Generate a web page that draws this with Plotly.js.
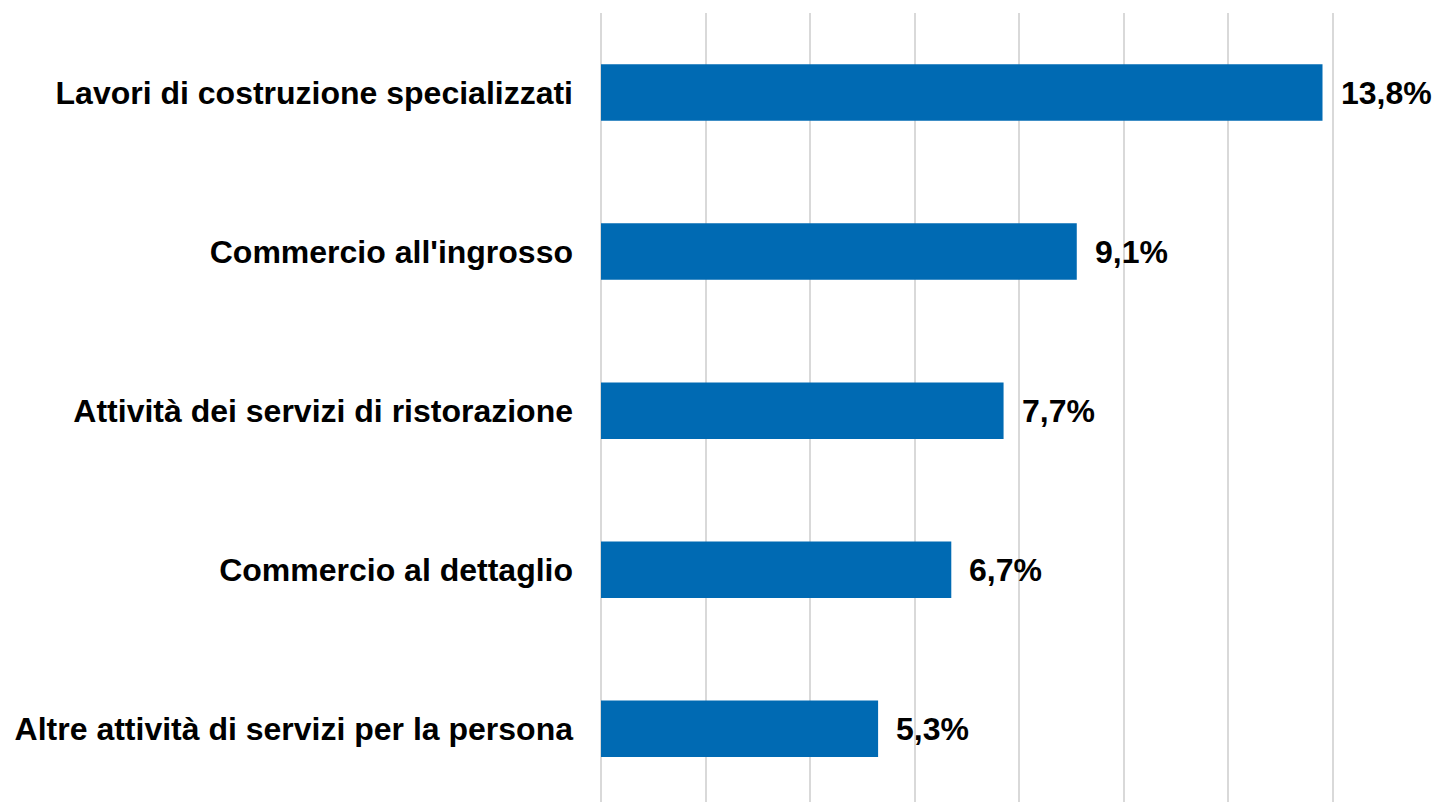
<!DOCTYPE html>
<html>
<head>
<meta charset="utf-8">
<script src="https://cdn.plot.ly/plotly-3.0.1.min.js"></script>
<style>html,body{margin:0;padding:0;background:#fff;}#chart{width:1432px;height:802px;}</style>
</head>
<body>
<div id="chart"></div>
<script>
const categories = [
  "Lavori di costruzione specializzati",
  "Commercio all'ingrosso",
  "Attività dei servizi di ristorazione",
  "Commercio al dettaglio",
  "Altre attività di servizi per la persona"
];
const values = [13.8, 9.1, 7.7, 6.7, 5.3];
const xTicks = [0, 2, 4, 6, 8, 10, 12, 14];

const fmt = v => v.toFixed(1).replace('.', ',') + '%';
const FONT = 'Liberation Sans, Arial, sans-serif';

const trace = {
  type: 'bar',
  orientation: 'h',
  x: values,
  y: categories,
  width: 0.355,
  marker: {color: '#006AB3'},
  hoverinfo: 'skip'
};

const annotations = values.map((v, i) => ({
  x: v, y: categories[i], xref: 'x', yref: 'y',
  text: fmt(v), showarrow: false, xanchor: 'left', yanchor: 'middle',
  xshift: 16,
  font: {family: FONT, size: 32, color: '#000', weight: 'bold'}
}));

const layout = {
  width: 1432, height: 802,
  margin: {l: 601, r: 98, t: 13, b: 0},
  paper_bgcolor: '#fff', plot_bgcolor: '#fff',
  showlegend: false,
  font: {family: FONT, color: '#000'},
  xaxis: {
    range: [0, 14.02], tickvals: xTicks, showticklabels: false,
    showgrid: true, gridcolor: '#d9d9d9', gridwidth: 2,
    zeroline: true, zerolinecolor: '#d9d9d9', zerolinewidth: 2,
    showline: false, fixedrange: true
  },
  yaxis: {
    type: 'category', categoryorder: 'array', categoryarray: categories,
    range: [4.46, -0.5], showgrid: false, zeroline: false, showline: false,
    ticks: '', ticklabelstandoff: 27,
    tickfont: {family: FONT, size: 32, color: '#000', weight: 'bold'}
  },
  annotations: annotations
};

Plotly.newPlot('chart', [trace], layout, {displayModeBar: false, staticPlot: true});
</script>
</body>
</html>
